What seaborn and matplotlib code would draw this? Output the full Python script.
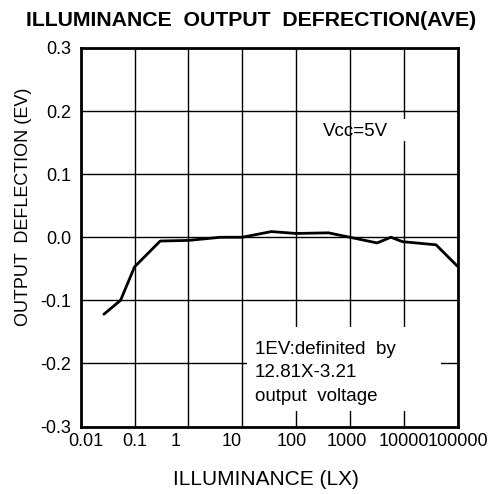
import matplotlib
matplotlib.use("Agg")
import matplotlib.pyplot as plt
import matplotlib.transforms as mtransforms
import seaborn as sns
import pandas as pd
from matplotlib.patches import Rectangle

illuminance = [0.027, 0.055, 0.1, 0.3, 1, 4, 10, 35, 100, 400, 1000, 3200, 5800, 9500, 40000, 100000]
deflection = [-0.122, -0.100, -0.047, -0.006, -0.005, 0.0, 0.0, 0.009, 0.006, 0.007, 0.0, -0.009, 0.0, -0.007, -0.012, -0.046]
x_ticks = [0.01, 0.1, 1, 10, 100, 1000, 10000, 100000]
x_ticklabels = ["0.01", "0.1", "1", "10", "100", "1000", "10000", "100000"]
y_ticks = [-0.3, -0.2, -0.1, 0.0, 0.1, 0.2, 0.3]
y_ticklabels = ["-0.3", "-0.2", "-0.1", "0.0", "0.1", "0.2", "0.3"]

sns.set_theme(style="white")
plt.rcParams["font.family"] = ["Liberation Sans", "DejaVu Sans"]

df = pd.DataFrame({"lx": illuminance, "ev": deflection})

fig = plt.figure(figsize=(4.91, 4.94), dpi=100)
ax = fig.add_axes([80.7 / 491, 1 - 426.5 / 494, (457.5 - 80.7) / 491, (426.5 - 48) / 494])

sns.lineplot(data=df, x="lx", y="ev", ax=ax, color="black", linewidth=2,
             sort=False, estimator=None, zorder=3)
ax.set_xscale("log")
ax.set_xlim(0.01, 100000)
ax.set_ylim(-0.3, 0.3)
ax.set_xticks(x_ticks)
ax.set_xticklabels(x_ticklabels)
ax.set_yticks(y_ticks)
ax.set_yticklabels(y_ticklabels)
ax.minorticks_off()
ax.tick_params(axis="both", length=0, labelsize=13, colors="black")
ax.tick_params(axis="x", pad=5)
ax.tick_params(axis="y", pad=7)

# small horizontal nudges of x tick labels as in the original scan
x_label_shift_px = [5, 0, -13, -10, -4, -3, 0, 0]
for lab, dx in zip(ax.get_xticklabels(), x_label_shift_px):
    lab.set_transform(lab.get_transform() +
                      mtransforms.ScaledTranslation(dx / 100, 0, fig.dpi_scale_trans))

ax.grid(True, color="black", linewidth=1)
ax.set_axisbelow(True)
for s in ax.spines.values():
    s.set_color("black")
    s.set_linewidth(2)

ax.set_xlabel("ILLUMINANCE (LX)", fontsize=15, color="black")
ax.xaxis.set_label_coords((266 - 80.7) / 376.8, (426.5 - 479) / 378.5)
ax.xaxis.label.set_va("center")
ax.set_ylabel("OUTPUT  DEFLECTION (EV)", fontsize=13, color="black")
ax.yaxis.set_label_coords((24 - 80.7) / 376.8, (426.5 - 207) / 378.5)
ax.yaxis.label.set_va("center")
fig.text(251.5 / 491, 1 - 20.5 / 494, "ILLUMINANCE  OUTPUT  DEFRECTION(AVE)",
         fontsize=15.3, fontweight="bold", ha="center", va="center", color="black")

# white boxes covering grid
ax.add_patch(Rectangle((0.441, 0.041), 0.515, 0.222, transform=ax.transAxes,
                       facecolor="white", edgecolor="none", zorder=2.5))
ax.add_patch(Rectangle((0.74, 0.754), 0.14, 0.058, transform=ax.transAxes,
                       facecolor="white", edgecolor="none", zorder=2.5))

ax.text(0.4626, 0.142, "1EV:definited  by\n12.81X-3.21\noutput  voltage",
        transform=ax.transAxes, fontsize=13.5, va="center", ha="left",
        linespacing=1.5, zorder=4, color="black")
ax.text(0.730, 0.779, "Vcc=5V", transform=ax.transAxes, fontsize=13.5,
        va="center", ha="center", zorder=4, color="black")

fig.savefig("out.png", dpi=100)
